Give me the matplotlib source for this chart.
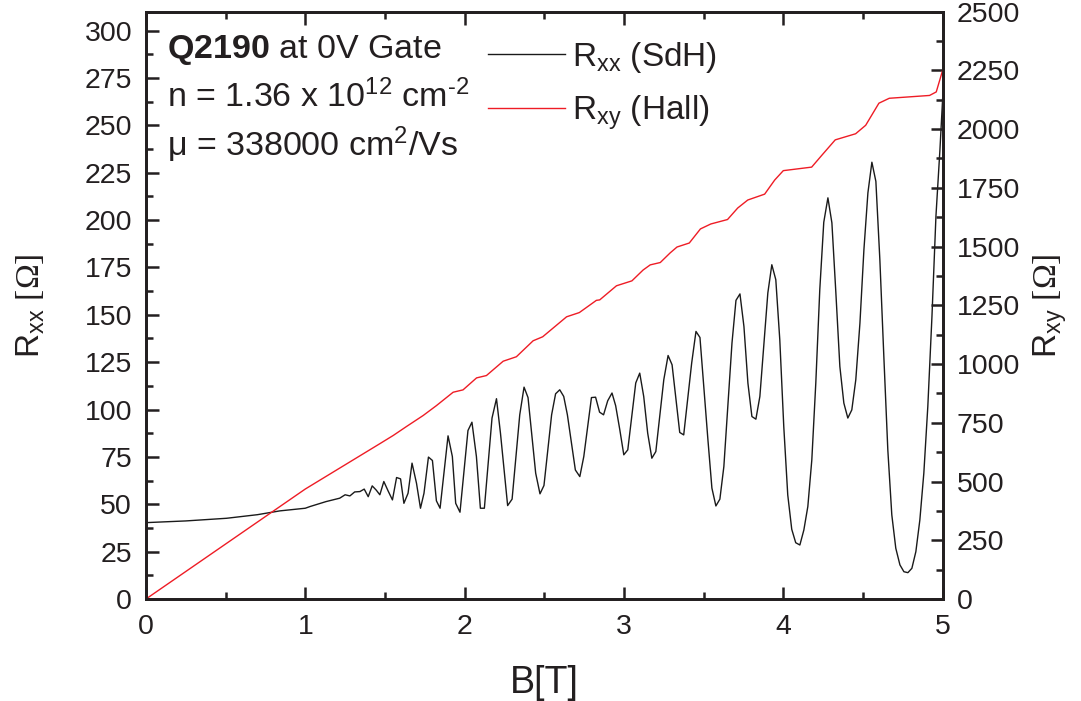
import matplotlib
matplotlib.use('AGG')
import matplotlib.pyplot as plt
from matplotlib.ticker import MultipleLocator

plt.rcParams['font.family'] = ['Liberation Sans', 'DejaVu Sans']
plt.rcParams['mathtext.fontset'] = 'custom'
plt.rcParams['mathtext.default'] = 'regular'
plt.rcParams['mathtext.rm'] = 'Liberation Sans'
plt.rcParams['mathtext.bf'] = 'Liberation Sans:bold'
plt.rcParams['mathtext.sf'] = 'Liberation Serif'

# R_xx (SdH), B in T, R in Ohm
b_xx = [0.0, 0.25, 0.506, 0.7, 0.84, 1.0, 1.03, 1.13, 1.216, 1.25, 1.28, 1.31,
        1.343, 1.37, 1.395, 1.42, 1.445, 1.468, 1.493, 1.52, 1.547, 1.573, 1.598,
        1.619, 1.645, 1.67, 1.698, 1.723, 1.745, 1.773, 1.798, 1.823, 1.846,
        1.896, 1.923, 1.944, 1.971, 2.021, 2.046, 2.074, 2.099, 2.124, 2.172,
        2.2, 2.225, 2.27, 2.298, 2.346, 2.373, 2.398, 2.446, 2.473, 2.498, 2.546,
        2.571, 2.597, 2.622, 2.645, 2.695, 2.723, 2.748, 2.796, 2.822, 2.847,
        2.872, 2.898, 2.925, 2.948, 2.974, 2.999, 3.024, 3.074, 3.099, 3.124,
        3.149, 3.175, 3.2, 3.25, 3.277, 3.302, 3.35, 3.375, 3.425, 3.452, 3.477,
        3.527, 3.552, 3.577, 3.602, 3.627, 3.678, 3.703, 3.728, 3.753, 3.778,
        3.803, 3.828, 3.853, 3.903, 3.928, 3.953, 3.978, 4.003, 4.028, 4.053,
        4.078, 4.104, 4.129, 4.154, 4.179, 4.204, 4.229, 4.254, 4.28, 4.305,
        4.33, 4.355, 4.38, 4.405, 4.43, 4.455, 4.481, 4.506, 4.531, 4.556, 4.581,
        4.606, 4.631, 4.656, 4.681, 4.706, 4.732, 4.757, 4.782, 4.807, 4.832,
        4.857, 4.882, 4.907, 4.933, 4.958, 4.983, 5.0]
r_xx = [40.3, 41.2, 42.6, 44.5, 46.5, 47.9, 48.8, 51.4, 53.2, 55.0, 54.4, 56.5,
        56.7, 58.0, 54.0, 59.7, 57.5, 55.0, 62.0, 57.0, 52.3, 64.1, 63.4,
        50.5, 55.8, 71.7, 61.1, 47.9, 55.8, 74.9, 73.1, 51.8, 47.9,
        86.1, 75.2, 50.5, 45.8, 88.9, 93.3, 75.2, 47.9, 47.9, 95.5,
        105.7, 87.5, 49.3, 52.7, 97.2, 111.8, 106.3, 66.4, 55.5, 59.9, 97.2,
        108.3, 110.4, 106.9, 97.2, 68.1, 64.6, 75.2, 106.3, 106.5, 98.6,
        97.2, 104.6, 108.7, 102.0, 89.3, 76.1, 78.7, 114.0, 119.2, 106.9,
        87.5, 74.3, 77.8, 115.7, 128.5, 123.6, 87.9, 86.6, 124.5, 141.2, 138.0,
        84.0, 58.5, 49.1, 52.7, 69.9, 135.1, 157.6, 161.0, 143.8, 113.9,
        96.3, 94.9, 106.9, 161.5, 176.4, 168.5, 136.8, 91.0, 54.9, 36.8,
        29.7, 28.5, 36.4, 48.8, 73.4, 114.0, 163.2, 198.8, 211.7, 198.5,
        161.5, 122.7, 103.4, 95.5, 99.8, 115.7, 145.6, 184.4, 214.3, 230.5, 220.4,
        179.1, 128.0, 78.7, 44.4, 26.8, 18.0, 14.4, 13.9, 16.2, 25.0,
        41.7, 66.4, 101.6, 149.1, 202.0, 237.0, 264.0]

# R_xy (Hall)
b_xy = [0.0, 1.0, 1.468, 1.552, 1.635, 1.74, 1.823, 1.928, 1.99, 2.075, 2.137,
        2.242, 2.325, 2.43, 2.49, 2.64, 2.72, 2.827, 2.848, 2.953, 3.05, 3.12,
        3.165, 3.228, 3.29, 3.333, 3.41, 3.48, 3.545, 3.65, 3.714, 3.777, 3.883,
        3.946, 4.0, 4.178, 4.24, 4.326, 4.454, 4.517, 4.6, 4.665, 4.918, 4.96, 5.0]
r_xy = [0, 468, 661, 696, 734, 781, 823, 880, 890, 941, 951,
        1012, 1031, 1099, 1116, 1201, 1219, 1271, 1273, 1333, 1354, 1400,
        1422, 1432, 1473, 1498, 1515, 1575, 1596, 1615, 1664, 1698, 1723,
        1783, 1823, 1838, 1887, 1954, 1980, 2016, 2110, 2131, 2143, 2158, 2250]

ink = '#231f20'
fig = plt.figure(figsize=(10.81, 7.01), dpi=100)
ax = fig.add_axes([0.135, 0.1455, 0.737, 0.838])
ax2 = ax.twinx()

l1, = ax.plot(b_xx, r_xx, color='#1a1a1a', lw=1.0, label=r'R$_{xx}$ (SdH)')
l2, = ax2.plot(b_xy, r_xy, color='#ee1c25', lw=1.0, label=r'R$_{xy}$ (Hall)')

ax.set_xlim(0, 5)
ax.set_ylim(0, 310)
ax2.set_ylim(0, 2500)

ax.xaxis.set_major_locator(MultipleLocator(1))
ax.xaxis.set_minor_locator(MultipleLocator(0.5))
ax.yaxis.set_major_locator(MultipleLocator(25))
ax.yaxis.set_minor_locator(MultipleLocator(12.5))
ax2.yaxis.set_major_locator(MultipleLocator(250))
ax2.yaxis.set_minor_locator(MultipleLocator(125))

ax.tick_params(which='both', direction='in', top=True, right=False, width=1.8,
               labelsize=20.5, colors=ink)
ax.tick_params(axis='y', pad=10)
ax.tick_params(axis='x', pad=11)
ax.tick_params(which='major', length=9)
ax.tick_params(which='minor', length=5)
ax2.tick_params(which='both', direction='in', width=1.8, labelsize=20.5,
                colors=ink, pad=10)
ax2.tick_params(which='major', length=9)
ax2.tick_params(which='minor', length=5)
for a in (ax, ax2):
    for s in a.spines.values():
        s.set_linewidth(2)
        s.set_color(ink)

ax.set_xlabel('B[T]', fontsize=27, color=ink, labelpad=18)
ax.set_ylabel(r'R$_{xx}$ $\mathsf{[\Omega]}$', fontsize=24, color=ink, labelpad=27)
ax2.set_ylabel(r'R$_{xy}$ $\mathsf{[\Omega]}$', fontsize=24, color=ink, labelpad=8)

ax.text(0.026, 0.935, r'$\mathbf{Q2190}$ at 0V Gate', transform=ax.transAxes,
        fontsize=24.5, color=ink, va='center')
ax.text(0.026, 0.854, r'n = 1.36 x 10$^{12}$ cm$^{\text{-2}}$', transform=ax.transAxes,
        fontsize=24.5, color=ink, va='center')
ax.text(0.026, 0.774, r'μ = 338000 cm$^{2}$/Vs', transform=ax.transAxes,
        fontsize=24.5, color=ink, va='center')

leg = ax.legend(handles=[l1, l2], loc='upper left', bbox_to_anchor=(0.392, 1.003),
                frameon=False, fontsize=24, handlelength=2.3, handletextpad=0.2,
                labelspacing=0.57)
for t in leg.get_texts():
    t.set_color(ink)

fig.savefig('out.png', dpi=100)
plt.close()
